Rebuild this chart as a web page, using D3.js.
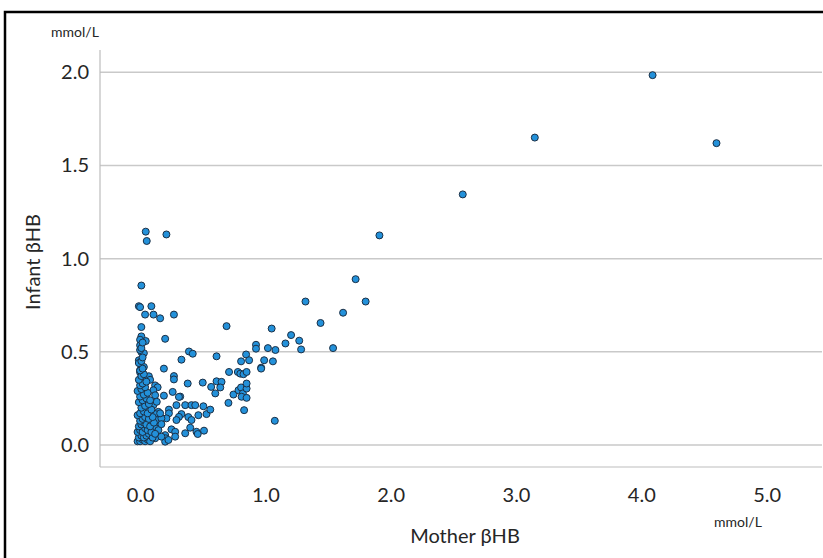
<!DOCTYPE html>
<html>
<head>
<meta charset="utf-8">
<script src="https://cdn.jsdelivr.net/npm/d3@7"></script>
<style>
  body { margin: 0; background: #fff; }
  svg text { font-family: Lato, "Liberation Sans", sans-serif; fill: #262626; }
</style>
</head>
<body>
<div id="chart"></div>
<script>
// [mother βHB, infant βHB] in mmol/L
var nearZero = [
  [0.045,1.145],[0.053,1.095],[0.01,0.856],[-0.01,0.745],[0.0,0.74],[0.09,0.745],
  [0.04,0.70],[0.107,0.70],[0.01,0.633],[0.01,0.583],[0.0,0.565],[0.045,0.558],
  [0.0,0.535],[0.01,0.499],[0.03,0.493],[-0.01,0.455],[0.0,0.437],[0.03,0.419],
  [0.0,0.401],[0.07,0.369],[0.08,0.35],[0.0,0.39],[0.12,0.32],[0.14,0.31],
  [0.106,0.294],[0.12,0.267],[0.106,0.214],[0.133,0.232],[0.146,0.178],[0.12,0.166],
  [0.146,0.098],[0.128,0.089],[0.133,0.134],[0.093,0.116],[0.146,0.08],[0.12,0.036],
  [-0.02,0.02],[0.0,0.02],[0.02,0.03],[0.04,0.02],[0.06,0.03],[0.08,0.02],
  [-0.01,0.04],[0.01,0.05],[0.03,0.04],[0.05,0.05],[0.07,0.06],[0.10,0.04],
  [-0.02,0.07],[0.0,0.08],[0.02,0.07],[0.04,0.09],[0.06,0.08],[0.09,0.07],
  [0.12,0.06],[-0.01,0.10],[0.01,0.11],[0.03,0.12],[0.05,0.11],[0.08,0.10],
  [0.11,0.12],[0.0,0.13],[0.02,0.14],[0.04,0.15],[0.07,0.14],[0.10,0.15],
  [-0.02,0.16],[0.0,0.17],[0.03,0.18],[0.06,0.17],[0.09,0.19],[0.01,0.20],
  [0.04,0.21],[0.07,0.22],[-0.01,0.23],[0.02,0.24],[0.05,0.25],[0.08,0.24],
  [0.0,0.26],[0.03,0.27],[0.06,0.28],[-0.02,0.29],[0.01,0.30],[0.04,0.31],
  [0.0,0.32],[0.02,0.33],[0.05,0.34],[-0.01,0.35],[0.01,0.37],[0.03,0.38],
  [0.0,0.40],[0.02,0.41],[-0.01,0.44],[0.01,0.45],[0.02,0.47],[0.0,0.51],
  [0.01,0.52],[0.02,0.55]
]

var lowRange = [
  [0.21,1.13],[0.27,0.70],[0.16,0.68],[0.20,0.57],[0.39,0.502],[0.42,0.49],
  [0.33,0.458],[0.19,0.41],[0.27,0.37],[0.27,0.352],[0.38,0.33],[0.50,0.335],
  [0.32,0.26],[0.26,0.285],[0.19,0.265],[0.36,0.214],[0.41,0.214],[0.44,0.214],
  [0.505,0.208],[0.53,0.166],[0.465,0.16],[0.385,0.15],[0.33,0.166],[0.41,0.134],
  [0.31,0.151],[0.29,0.134],[0.40,0.093],[0.45,0.071],[0.46,0.059],[0.51,0.077],
  [0.29,0.214],[0.23,0.19],[0.23,0.17],[0.21,0.143],[0.25,0.084],[0.20,0.053],
  [0.205,0.036],[0.17,0.143],[0.17,0.112],[0.16,0.17],[0.28,0.071],[0.36,0.063],
  [0.20,0.018],[0.226,0.027],[0.28,0.045],[0.17,0.045],[0.31,0.258]
]

var midRange = [
  [0.61,0.476],[0.69,0.638],[1.05,0.625],[1.205,0.59],[1.27,0.56],[1.16,0.545],
  [1.285,0.513],[0.925,0.538],[0.925,0.517],[1.02,0.52],[1.08,0.51],[0.846,0.486],
  [0.806,0.449],[0.87,0.455],[0.99,0.455],[1.06,0.449],[0.966,0.415],[0.966,0.41],
  [0.71,0.392],[0.78,0.392],[0.80,0.383],[0.825,0.38],[0.85,0.392],[0.567,0.312],
  [0.61,0.342],[0.65,0.339],[0.64,0.309],[0.60,0.277],[0.745,0.271],[0.785,0.294],
  [0.806,0.309],[0.82,0.277],[0.81,0.259],[0.85,0.303],[0.85,0.253],[0.85,0.33],
  [0.83,0.187],[0.705,0.226],[1.075,0.13],[0.56,0.19]
]

var highRange = [
  [1.32,0.77],[1.80,0.77],[1.62,0.71],[1.44,0.655],[1.54,0.52],[1.72,0.89],
  [1.91,1.125],[2.575,1.345],[3.15,1.65],[4.09,1.985],[4.60,1.62]
]

var xTicks = [0, 1, 2, 3, 4, 5]
var yTicks = [0, 0.5, 1, 1.5, 2]

var width = 823
var height = 558
var points = nearZero.concat(lowRange, midRange, highRange)

var svg = d3.select('#chart').append('svg')
  .attr('width', width)
  .attr('height', height)

var x = d3.scaleLinear().domain([-0.32, 5.45]).range([100, 823])
var y = d3.scaleLinear().domain([-0.118, 2.12]).range([467, 50])

// frame
svg.append('rect')
  .attr('x', 5).attr('y', 12)
  .attr('width', 850).attr('height', 580)
  .attr('fill', 'none').attr('stroke', '#000').attr('stroke-width', 2.5)

// gridlines
svg.append('g').selectAll('line').data(yTicks).join('line')
  .attr('x1', 100).attr('x2', 822)
  .attr('y1', d => y(d)).attr('y2', d => y(d))
  .attr('stroke', '#c9c9c9').attr('stroke-width', 1.5)

// axis lines
svg.append('line')
  .attr('x1', 100).attr('x2', 100).attr('y1', 50).attr('y2', 467)
  .attr('stroke', '#bdbdbd').attr('stroke-width', 1.2)
svg.append('line')
  .attr('x1', 100).attr('x2', 822).attr('y1', 467).attr('y2', 467)
  .attr('stroke', '#bdbdbd').attr('stroke-width', 1.2)

var yAxis = svg.append('g')
  .attr('transform', 'translate(100,0)')
  .call(d3.axisLeft(y).tickValues(yTicks).tickFormat(d3.format('.1f')).tickSize(0).tickPadding(11))
yAxis.select('.domain').remove()
yAxis.selectAll('text').style('font-size', '20px')

var xAxis = svg.append('g')
  .attr('transform', 'translate(0,467)')
  .call(d3.axisBottom(x).tickValues(xTicks).tickFormat(d3.format('.1f')).tickSize(0).tickPadding(21))
xAxis.select('.domain').remove()
xAxis.selectAll('text').style('font-size', '20px')

// points
svg.append('g').selectAll('circle').data(points).join('circle')
  .attr('cx', d => x(d[0]))
  .attr('cy', d => y(d[1]))
  .attr('r', 3.5)
  .attr('fill', '#2391da')
  .attr('stroke', '#1b2f45')
  .attr('stroke-width', 1)

// titles
svg.append('text')
  .attr('x', 465).attr('y', 543)
  .attr('text-anchor', 'middle')
  .style('font-size', '20px')
  .text('Mother βHB')

svg.append('text')
  .attr('transform', 'translate(40,262) rotate(-90)')
  .attr('text-anchor', 'middle')
  .style('font-size', '20px')
  .text('Infant βHB')

svg.append('text')
  .attr('x', 738).attr('y', 527)
  .attr('text-anchor', 'middle')
  .style('font-size', '14px')
  .text('mmol/L')

svg.append('text')
  .attr('x', 75).attr('y', 37)
  .attr('text-anchor', 'middle')
  .style('font-size', '14px')
  .text('mmol/L')
</script>
</body>
</html>
